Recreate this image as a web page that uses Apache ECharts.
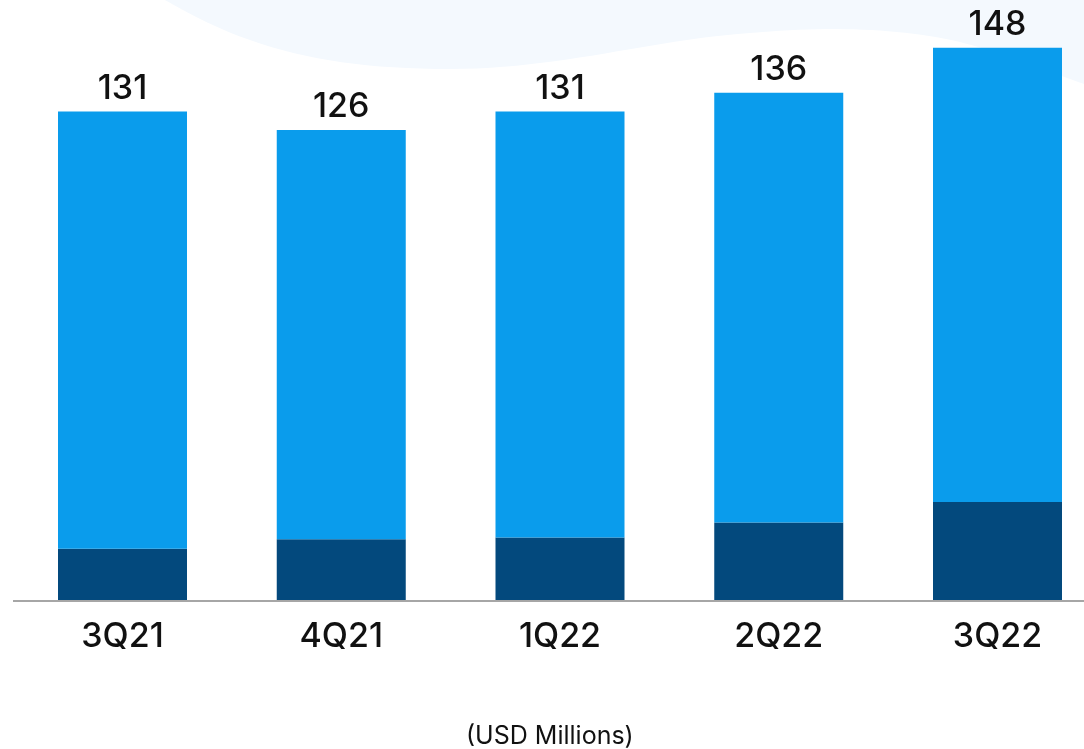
<!DOCTYPE html>
<html>
<head>
<meta charset="utf-8">
<title>Quarterly revenue</title>
<script src="https://cdn.jsdelivr.net/npm/echarts@6/dist/echarts.min.js"></script>
<style>
  html, body { margin: 0; padding: 0; background: #ffffff; }
  #chart { width: 1084px; height: 749px; }
</style>
</head>
<body>
<div id="chart"></div>
<script>
// Quarters on the x axis
const quarters = ['3Q21', '4Q21', '1Q22', '2Q22', '3Q22'];
// Total per quarter (USD millions), shown above each bar
const totals = [131, 126, 131, 136, 148];
// Lower (dark) segment of each bar
const baseSegment = [14, 16.5, 17, 21, 26.5];
// Upper (light) segment = total minus lower segment
const upperSegment = totals.map((t, i) => t - baseSegment[i]);

const FONT = 'Inter, "Open Sans", sans-serif';
const BASELINE_Y = 601;

// Decorative wave at the top: cubic bezier segments flattened into a polygon
function waveOutline() {
  const segs = [
    [[165, 0], [250, 50], [330, 69], [450, 69]],
    [[450, 69], [560, 69], [650, 40], [750, 33]],
    [[750, 33], [830, 26], [900, 28], [960, 42]],
    [[960, 42], [1010, 55], [1050, 72], [1084, 84]]
  ];
  const pts = [];
  segs.forEach(([a, b, c, d]) => {
    for (let k = 0; k <= 24; k++) {
      const t = k / 24, u = 1 - t;
      pts.push([
        u * u * u * a[0] + 3 * u * u * t * b[0] + 3 * u * t * t * c[0] + t * t * t * d[0],
        u * u * u * a[1] + 3 * u * u * t * b[1] + 3 * u * t * t * c[1] + t * t * t * d[1]
      ]);
    }
  });
  pts.push([1084, 0]);
  return pts;
}

const chart = echarts.init(document.getElementById('chart'), null, { renderer: 'canvas' });

chart.setOption({
  backgroundColor: '#ffffff',
  animation: false,
  graphic: [
    {
      type: 'polygon',
      z: -10,
      silent: true,
      shape: { points: waveOutline() },
      style: { fill: '#f4f9fe' }
    },
    {
      // baseline running across the full width
      type: 'line',
      z: 5,
      silent: true,
      shape: { x1: 13, y1: BASELINE_Y, x2: 1084, y2: BASELINE_Y },
      style: { stroke: '#a6a6a6', lineWidth: 2 }
    },
    {
      type: 'text',
      left: 466,
      top: 724,
      style: {
        text: '(USD Millions)',
        fill: '#111111',
        font: '400 25px ' + FONT
      }
    }
  ],
  // category centres sit on the grid edges (boundaryGap: false)
  grid: { left: 122.5, right: 86.5, top: 3, bottom: 749 - BASELINE_Y, containLabel: false },
  xAxis: {
    type: 'category',
    data: quarters,
    boundaryGap: false,
    axisLine: { show: false },
    axisTick: { show: false },
    axisLabel: {
      color: '#111111',
      fontFamily: FONT,
      fontSize: 34,
      fontWeight: 500,
      margin: 19
    }
  },
  yAxis: {
    type: 'value',
    min: 0,
    max: 160,
    show: false,
    splitLine: { show: false }
  },
  series: [
    {
      name: 'Base',
      type: 'bar',
      stack: 'total',
      barWidth: 129,
      data: baseSegment,
      itemStyle: { color: '#03497d' }
    },
    {
      name: 'Upper',
      type: 'bar',
      stack: 'total',
      barWidth: 129,
      data: upperSegment,
      itemStyle: { color: '#0a9cec' },
      label: {
        show: true,
        position: 'top',
        distance: 6,
        color: '#111111',
        fontFamily: FONT,
        fontSize: 34,
        fontWeight: 500,
        formatter: p => String(totals[p.dataIndex])
      }
    }
  ]
});
</script>
</body>
</html>
